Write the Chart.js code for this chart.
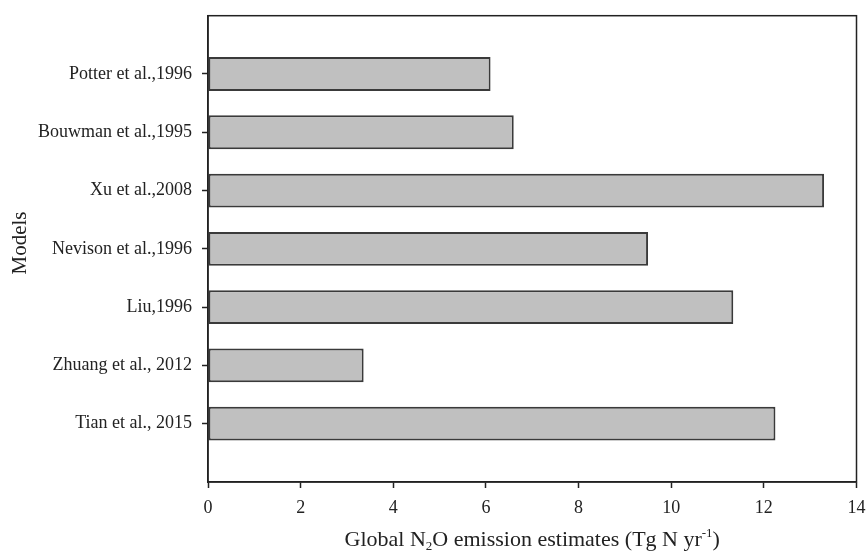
<!DOCTYPE html>
<html>
<head>
<meta charset="utf-8">
<script src="https://cdn.jsdelivr.net/npm/chart.js@4/dist/chart.umd.min.js"></script>
<style>
  html, body { margin: 0; padding: 0; background: #fff; }
  canvas { display: block; }
</style>
</head>
<body>
<canvas id="c" width="866" height="551"></canvas>
<script>
// Model studies (top to bottom) and their global N2O emission estimates (Tg N / yr)
const models = [
  'Potter et al.,1996',
  'Bouwman et al.,1995',
  'Xu et al.,2008',
  'Nevison et al.,1996',
  'Liu,1996',
  'Zhuang et al., 2012',
  'Tian et al., 2015'
];
const estimates = [6.1, 6.6, 13.3, 9.5, 11.34, 3.36, 12.25];
const xTicks = [0, 2, 4, 6, 8, 10, 12, 14];

const SERIF = '"Liberation Serif", "Times New Roman", serif';
const INK = '#222';

// One empty slot above and below the bars keeps the white margin inside the frame
const labels = [''].concat(models, ['']);
const values = [null].concat(estimates, [null]);

// Closed frame around the plot area
const framePlugin = {
  id: 'frame',
  afterDraw(chart) {
    const a = chart.chartArea, ctx = chart.ctx;
    ctx.save();
    ctx.strokeStyle = INK;
    ctx.lineWidth = 1.5;
    ctx.strokeRect(a.left, a.top, a.right - a.left, a.bottom - a.top);
    ctx.restore();
  }
};

// Axis titles, with subscript / superscript in the x title
const titlePlugin = {
  id: 'axisTitles',
  afterDraw(chart) {
    const a = chart.chartArea, ctx = chart.ctx;
    ctx.save();
    ctx.fillStyle = INK;
    ctx.textBaseline = 'alphabetic';
    ctx.textAlign = 'left';
    const big = '22px ' + SERIF, small = '13px ' + SERIF;
    const parts = [
      { t: 'Global N', f: big, dy: 0 },
      { t: '2', f: small, dy: 4 },
      { t: 'O emission estimates (Tg N yr', f: big, dy: 0 },
      { t: '-1', f: small, dy: -9 },
      { t: ')', f: big, dy: 0 }
    ];
    let total = 0;
    parts.forEach(p => { ctx.font = p.f; p.w = ctx.measureText(p.t).width; total += p.w; });
    let x = (a.left + a.right) / 2 - total / 2;
    const base = 545.5;
    parts.forEach(p => { ctx.font = p.f; ctx.fillText(p.t, x, base + p.dy); x += p.w; });

    ctx.translate(26, 243);
    ctx.rotate(-Math.PI / 2);
    ctx.textAlign = 'center';
    ctx.font = '21px ' + SERIF;
    ctx.fillText('Models', 0, 0);
    ctx.restore();
  }
};

new Chart(document.getElementById('c'), {
  type: 'bar',
  data: {
    labels: labels,
    datasets: [{
      data: values,
      backgroundColor: '#c0c0c0',
      borderColor: '#3a3a3a',
      borderWidth: 2,
      borderSkipped: false,
      categoryPercentage: 1,
      barPercentage: 0.58
    }]
  },
  options: {
    indexAxis: 'y',
    responsive: false,
    animation: false,
    devicePixelRatio: 1,
    layout: { padding: { left: 0, right: 9.5, top: 15.7, bottom: 0 } },
    plugins: { legend: { display: false }, tooltip: { enabled: false } },
    scales: {
      x: {
        type: 'linear',
        min: xTicks[0],
        max: xTicks[xTicks.length - 1],
        afterBuildTicks(scale) { scale.ticks = xTicks.map(v => ({ value: v })); },
        afterFit(scale) { scale.height = 69; scale.paddingLeft = 0; scale.paddingRight = 0; },
        grid: { drawOnChartArea: false, drawTicks: true, tickLength: 6, tickColor: INK, tickWidth: 1.5 },
        border: { display: true, color: INK, width: 1.5 },
        ticks: { color: INK, font: { family: SERIF, size: 18 }, padding: 9, maxRotation: 0 }
      },
      y: {
        type: 'category',
        offset: false,
        afterFit(scale) { scale.width = 208; scale.paddingTop = 0; scale.paddingBottom = 0; },
        grid: {
          offset: false,
          drawOnChartArea: false, drawTicks: true, tickLength: 6, tickWidth: 1.5,
          tickColor: ctx => (ctx.tick && ctx.tick.label) ? INK : 'rgba(0,0,0,0)'
        },
        border: { display: true, color: INK, width: 1.5 },
        ticks: { color: INK, font: { family: SERIF, size: 18 }, padding: 10, autoSkip: false }
      }
    }
  },
  plugins: [framePlugin, titlePlugin]
});
</script>
</body>
</html>
